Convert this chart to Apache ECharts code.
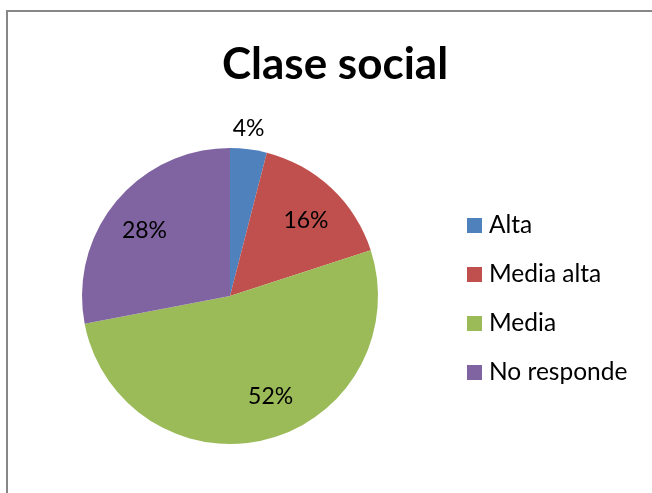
<!DOCTYPE html>
<html>
<head>
<meta charset="utf-8">
<script src="https://cdn.jsdelivr.net/npm/echarts@6/dist/echarts.min.js"></script>
<style>
html,body{margin:0;padding:0;background:#fff;}
#chart{width:652px;height:493px;}
</style>
</head>
<body>
<div id="chart"></div>
<script>
const categories = ['Alta', 'Media alta', 'Media', 'No responde'];
const values = [4, 16, 52, 28];
const colors = ['#4F81BD', '#C0504D', '#9BBB59', '#8064A2'];
const outsideLabel = [true, false, false, false];
const labelShift = [[-3, 0], [0, 0], [13, -12], [0, 0]];

const FONT = 'Lato';
const chart = echarts.init(document.getElementById('chart'));

const mainData = categories.map((c, i) => ({ name: c, value: values[i], itemStyle: { color: colors[i] } }));
const innerLabelData = categories.map((c, i) => ({ name: c, value: values[i], label: { show: !outsideLabel[i], offset: labelShift[i] } }));
const outerLabelData = categories.map((c, i) => ({ name: c, value: values[i], label: { show: outsideLabel[i], offset: labelShift[i] } }));

const labelStyle = { position: 'inside', formatter: '{c}%', color: '#000', fontFamily: FONT, fontSize: 23 };

chart.setOption({
  animation: false,
  graphic: [{ type: 'rect', shape: { x: 7, y: 11, width: 700, height: 600 }, style: { fill: 'none', stroke: '#878787', lineWidth: 2 }, silent: true }],
  title: {
    text: 'Clase social', left: 330, top: 38, textAlign: 'center',
    textStyle: { fontFamily: FONT, fontWeight: 'bold', fontSize: 44, color: '#000' }
  },
  legend: {
    orient: 'vertical', left: 467, top: 213, padding: 0,
    itemWidth: 15, itemHeight: 15, itemGap: 24,
    icon: 'rect',
    textStyle: { fontFamily: FONT, fontSize: 24.5, color: '#000', lineHeight: 20, padding: [0, 0, 0, 2] },
    data: categories.map((c, i) => ({ name: c, itemStyle: { color: colors[i] } }))
  },
  series: [
    {
      type: 'pie', center: [230, 296], radius: [0, 148], startAngle: 90, clockwise: true,
      label: { show: false }, labelLine: { show: false }, silent: true,
      data: mainData
    },
    {
      type: 'pie', center: [230, 301], radius: [68, 148], startAngle: 90, clockwise: true,
      itemStyle: { color: 'rgba(0,0,0,0)' }, silent: true, labelLine: { show: false },
      label: labelStyle, data: innerLabelData
    },
    {
      type: 'pie', center: [230, 299], radius: [150, 188], startAngle: 90, clockwise: true,
      itemStyle: { color: 'rgba(0,0,0,0)' }, silent: true, labelLine: { show: false },
      label: labelStyle, data: outerLabelData
    }
  ]
});
</script>
</body>
</html>
